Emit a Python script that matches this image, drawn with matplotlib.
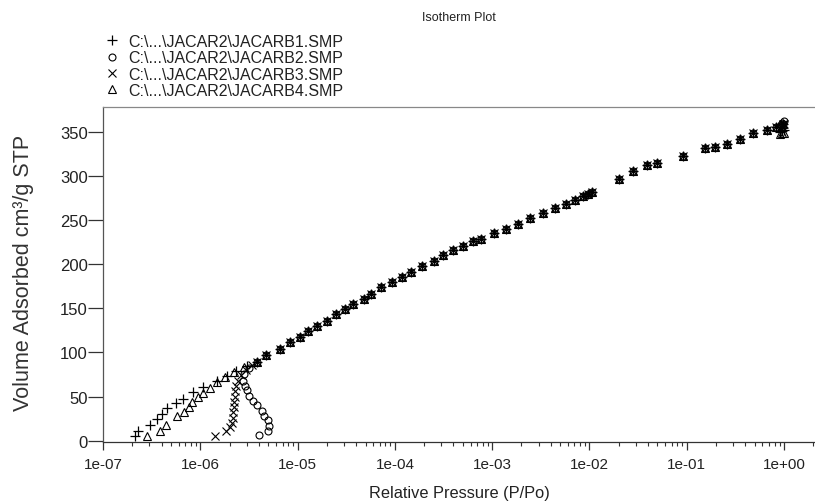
import matplotlib
matplotlib.use("Agg")
import matplotlib.pyplot as plt
from matplotlib.ticker import LogLocator, NullFormatter, FixedLocator, FixedFormatter

plt.rcParams['font.family'] = ['Liberation Sans', 'DejaVu Sans']

# ---------------- data ----------------
labels = [r"C:\...\JACAR2\JACARB1.SMP", r"C:\...\JACAR2\JACARB2.SMP",
          r"C:\...\JACAR2\JACARB3.SMP", r"C:\...\JACAR2\JACARB4.SMP"]

# low-pressure branches (each series)
low1_p = [2.14e-07, 2.31e-07, 3.02e-07, 3.55e-07, 4.07e-07, 4.52e-07, 5.62e-07,
          6.61e-07, 8.32e-07, 1.07e-06, 1.48e-06, 1.86e-06, 2.34e-06, 3.02e-06]
low1_v = [5.6, 11, 18, 25, 30, 37, 43, 47, 55, 61, 68, 73, 79, 85]

low2_p = [3.98e-06, 5.01e-06, 5.13e-06, 5.01e-06, 4.57e-06, 4.27e-06, 3.80e-06,
          3.47e-06, 3.16e-06, 3.02e-06, 2.88e-06, 2.75e-06, 2.82e-06, 3.16e-06]
low2_v = [6.5, 11, 17, 23, 28, 34, 40, 45, 51, 57, 62, 68, 75, 82]

low3_p = [1.41e-06, 1.82e-06, 2.04e-06, 2.11e-06, 2.16e-06, 2.19e-06, 2.21e-06,
          2.24e-06, 2.26e-06, 2.29e-06, 2.34e-06, 2.45e-06, 2.63e-06, 2.95e-06, 3.39e-06]
low3_v = [5.7, 11, 15, 20, 26, 32, 38, 44, 50, 56, 62, 68, 74, 80, 86]

low4_p = [2.82e-07, 3.89e-07, 4.47e-07, 5.75e-07, 6.76e-07, 7.59e-07, 8.13e-07,
          9.55e-07, 1.07e-06, 1.26e-06, 1.48e-06, 1.78e-06, 2.24e-06, 2.82e-06]
low4_v = [5.7, 11, 18, 28, 33, 38, 44, 49, 54, 60, 66, 72, 78, 84]

# shared main isotherm (all series overlap here)
main_p = [3.80e-06, 4.79e-06, 6.61e-06, 8.32e-06, 1.05e-05, 1.29e-05, 1.58e-05,
          2.00e-05, 2.51e-05, 3.09e-05, 3.72e-05, 4.79e-05, 5.75e-05, 7.24e-05,
          9.33e-05, 1.17e-04, 1.48e-04, 1.91e-04, 2.51e-04, 3.09e-04, 3.98e-04,
          5.01e-04, 6.31e-04, 7.59e-04, 1.05e-03, 1.38e-03, 1.86e-03, 2.45e-03,
          3.31e-03, 4.47e-03, 5.75e-03, 7.08e-03, 8.51e-03, 9.55e-03, 1.07e-02,
          2.00e-02, 2.82e-02, 3.89e-02, 4.90e-02, 9.12e-02, 0.155, 0.195, 0.257,
          0.355, 0.479, 0.661, 0.832, 0.977]
main_v = [89, 97, 104, 111.5, 118, 124, 130, 136, 143.6, 149, 155, 160.7, 166,
          174, 179.6, 185, 191, 198, 204, 210, 216, 221, 226, 229, 235, 240, 246,
          252, 258, 264, 268, 273, 277, 280, 282, 297, 306, 312, 315, 323, 331,
          333, 336, 342, 348, 351.5, 355, 359]

# high-pressure tails (series diverge slightly)
tail_p = [0.90, 0.95, 0.99]
tail1_v = [350, 351, 352]
tail2_v = [357, 360, 362]
tail3_v = [354, 357, 359]
tail4_v = [347, 348, 349]

x_ticks = [1e-07, 1e-06, 1e-05, 1e-04, 1e-03, 1e-02, 1e-01, 1e+00]
x_ticklabels = ["1e-07", "1e-06", "1e-05", "1e-04", "1e-03", "1e-02", "1e-01", "1e+00"]
y_ticks = [0, 50, 100, 150, 200, 250, 300, 350]

# ---------------- figure ----------------
fig = plt.figure(figsize=(8.15, 5.02), dpi=100)
ax = fig.add_axes([103/815, (502-443)/502, 1 - 103/815, (443-108)/502])

styles = [dict(marker='+', ms=6.5, mew=0.9),
          dict(marker='o', ms=5, mew=0.8, mfc='none'),
          dict(marker='x', ms=5.5, mew=0.8),
          dict(marker='^', ms=5.5, mew=0.8, mfc='none')]
lows = [(low1_p, low1_v), (low2_p, low2_v), (low3_p, low3_v), (low4_p, low4_v)]
tails = [tail1_v, tail2_v, tail3_v, tail4_v]

handles = []
for (lp, lv), tv, st in zip(lows, tails, styles):
    p = list(lp) + list(main_p) + list(tail_p)
    v = list(lv) + list(main_v) + list(tv)
    h, = ax.plot(p, v, linestyle='none', color='black', **st)
    handles.append(h)

ax.set_xscale('log')
ax.set_xlim(1e-07, 2.08)
ax.set_ylim(-1.5, 378)

ax.xaxis.set_major_locator(FixedLocator(x_ticks))
ax.xaxis.set_major_formatter(FixedFormatter(x_ticklabels))
ax.xaxis.set_minor_locator(LogLocator(base=10, subs=range(2, 10), numticks=20))
ax.xaxis.set_minor_formatter(NullFormatter())
ax.set_yticks(y_ticks)

ax.tick_params(axis='x', which='major', length=6, width=0.9, direction='out',
               colors='#333333', labelsize=11, pad=5)
ax.tick_params(axis='x', which='minor', length=3, width=0.8, direction='out', colors='#333333')
ax.tick_params(axis='y', which='major', length=10.5, width=0.9, direction='out',
               colors='#333333', labelsize=12, pad=0.5)
for lab in ax.get_xticklabels() + ax.get_yticklabels():
    lab.set_color('#222222')

ax.spines['right'].set_visible(False)
ax.spines['top'].set_color('#888888')
ax.spines['left'].set_color('#555555')
ax.spines['bottom'].set_color('#333333')
for s in ax.spines.values():
    s.set_linewidth(0.9)

ax.set_xlabel("Relative Pressure (P/Po)", fontsize=11.8, color='#222222', labelpad=10)
ax.set_ylabel("Volume Adsorbed cm³/g STP", fontsize=15.5, color='#333333', va='center')
ax.yaxis.set_label_coords(-0.112, 0.507)

fig.text(459/815, 1 - 18/502, "Isotherm Plot", ha='center', va='center',
         fontsize=9, color='#222222')

leg = fig.legend(handles, labels, loc='upper left', bbox_to_anchor=(106/815, 1 - 35/502),
                 frameon=False, fontsize=11.5, handlelength=0.8, handletextpad=0.6,
                 labelspacing=0.08, borderaxespad=0, borderpad=0, numpoints=1)
for t in leg.get_texts():
    t.set_color('#222222')

fig.savefig("out.png", dpi=100)
